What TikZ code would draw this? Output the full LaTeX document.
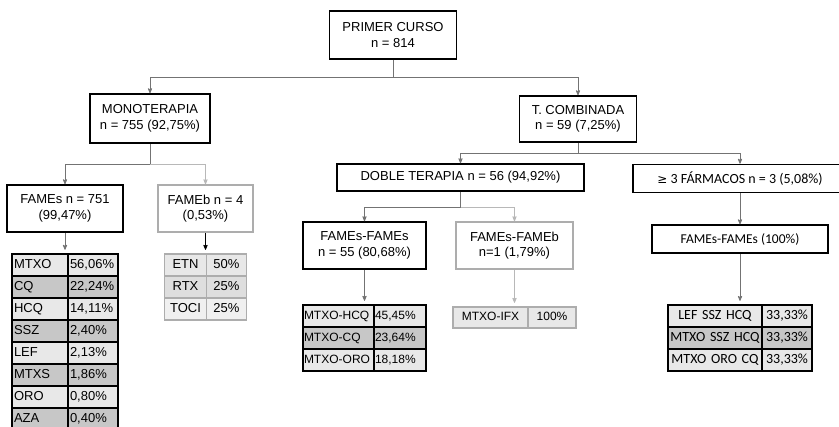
\documentclass[tikz,border=0pt]{standalone}
\usepackage{fontspec}
\setmainfont{Liberation Sans}
\newfontfamily\humfont{Carlito}
\newfontfamily\symfont{DejaVu Sans}
\usetikzlibrary{arrows,positioning,matrix}

\definecolor{cellLight}{gray}{0.91}
\definecolor{cellDark}{gray}{0.78}
\definecolor{lineDark}{gray}{0.45}
\definecolor{lineLight}{gray}{0.72}
\definecolor{boxGrey}{gray}{0.68}

\tikzset{
  box/.style={draw=black, line width=1.6pt, fill=white, align=center, inner sep=1pt,
    font=\fontsize{13}{15.5}\selectfont},
  greybox/.style={box, draw=boxGrey},
  conn/.style={->, draw=lineDark, line width=0.8pt},
  connlight/.style={conn, draw=lineLight},
  cell/.style={draw=black, line width=1.5pt, fill=cellLight, outer sep=0pt,
    inner xsep=2pt, inner ysep=0pt, minimum height=22pt, text height=9.5pt,
    text depth=3pt, align=left, font=\fontsize{13}{15}\selectfont},
  tab/.style={matrix of nodes, column sep=-1.5pt, row sep=-1.5pt, nodes={cell},
    row 2/.style={nodes={fill=cellDark}}, row 4/.style={nodes={fill=cellDark}},
    row 6/.style={nodes={fill=cellDark}}, row 8/.style={nodes={fill=cellDark}}},
  greytab/.style={tab, nodes={draw=boxGrey, align=center},
    row 1/.style={nodes={fill=black!9}}, row 2/.style={nodes={fill=black!13}},
    row 3/.style={nodes={fill=black!6}}}
}

\begin{document}
\begin{tikzpicture}[x=1pt, y=-1pt, >=stealth']
\useasboundingbox (0,0) rectangle (839,427);

% boxes
\node[box, minimum width=127pt, minimum height=48pt] (top) at (393,35) {PRIMER CURSO\\n = 814};
\node[box, minimum width=120pt, minimum height=49pt] (mono) at (150,118.5) {MONOTERAPIA\\n = 755 (92,75\%)};
\node[box, minimum width=117pt, minimum height=46pt] (comb) at (578,119) {T. COMBINADA\\n = 59 (7,25\%)};
\node[box, minimum width=116pt, minimum height=47pt] (fames) at (65,208.5) {FAMEs n = 751\\(99,47\%)};
\node[greybox, minimum width=95pt, minimum height=47pt] (fameb) at (205.5,208.5) {FAMEb n = 4\\(0,53\%)};
\node[box, minimum width=247pt, minimum height=27pt] (doble) at (460.5,177.5) {DOBLE TERAPIA n = 56 (94,92\%)};
\node[box, minimum width=214pt, minimum height=28pt, font=\humfont\fontsize{14}{16}\selectfont] (tres) at (740,178.5) {{\symfont\fontsize{12}{14}\selectfont ≥} 3 FÁRMACOS n = 3 (5,08\%)};
\node[box, minimum width=123pt, minimum height=47pt] (ffames) at (364.5,245.5) {FAMEs-FAMEs\\n = 55 (80,68\%)};
\node[greybox, minimum width=117pt, minimum height=47pt] (ffameb) at (514.5,245.5) {FAMEs-FAMEb\\n=1 (1,79\%)};
\node[box, minimum width=176pt, minimum height=28pt, font=\humfont\fontsize{13.5}{15}\selectfont,
  below=31pt of tres] (ftres) {FAMEs-FAMEs (100\%)};

% tables
\matrix (famesTab) [tab, below=17pt of fames,
  column 1/.style={nodes={text width=52pt}}, column 2/.style={nodes={text width=46pt}}] {
  MTXO & 56,06\% \\
  CQ   & 22,24\% \\
  HCQ  & 14,11\% \\
  SSZ  & 2,40\% \\
  LEF  & 2,13\% \\
  MTXS & 1,86\% \\
  ORO  & 0,80\% \\
  AZA  & 0,40\% \\
};
\matrix (famebTab) [greytab, below=17pt of fameb,
  column 1/.style={nodes={text width=38pt}}, column 2/.style={nodes={text width=36pt}}] {
  ETN  & 50\% \\
  RTX  & 25\% \\
  TOCI & 25\% \\
};
\matrix (ffamesTab) [tab, below=31pt of ffames, nodes={font=\fontsize{12}{14}\selectfont, inner xsep=1pt},
  column 1/.style={nodes={text width=69pt}}, column 2/.style={nodes={text width=50pt}}] {
  MTXO-HCQ & 45,45\% \\
  MTXO-CQ  & 23,64\% \\
  MTXO-ORO & 18,18\% \\
};
\matrix (ffamebTab) [greytab, below=33pt of ffameb, row 1/.style={nodes={fill=cellLight}},
  nodes={font=\fontsize{12}{14}\selectfont, minimum height=21pt},
  column 1/.style={nodes={text width=71pt}}, column 2/.style={nodes={text width=44pt}}] {
  MTXO-IFX & 100\% \\
};
\matrix (ftresTab) [tab, below=47pt of ftres, nodes={font=\humfont\fontsize{14}{16}\selectfont, align=center},
  column 1/.style={nodes={text width=90pt}}, column 2/.style={nodes={text width=46pt}}] {
  LEF SSZ HCQ  & 33,33\% \\
  MTXO SSZ HCQ & 33,33\% \\
  MTXO ORO CQ  & 33,33\% \\
};

% connectors
\draw[conn] (top.south) -- ++(0,18) coordinate (topJ) -| (mono.north);
\draw[conn] (topJ) -| (comb.north);
\draw[conn] (mono.south) -- ++(0,21) coordinate (monoJ) -| (fames.north);
\draw[connlight] (monoJ) -| (fameb.north);
\draw[conn] (comb.south) -- ++(0,11) coordinate (combJ) -| (doble.north);
\draw[conn] (combJ) -| (tres.north);
\draw[conn] (doble.south) -- ++(0,16) coordinate (dobleJ) -| (ffames.north);
\draw[connlight] (dobleJ) -| (ffameb.north);
\draw[conn] (tres) -- (ftres);
\draw[conn] (fames) -- (famesTab);
\draw[conn, draw=black] (fameb) -- (famebTab);
\draw[conn] (ffames) -- (ffamesTab);
\draw[connlight] (ffameb) -- (ffamebTab);
\draw[conn] (ftres) -- (ftresTab);
\end{tikzpicture}
\end{document}
